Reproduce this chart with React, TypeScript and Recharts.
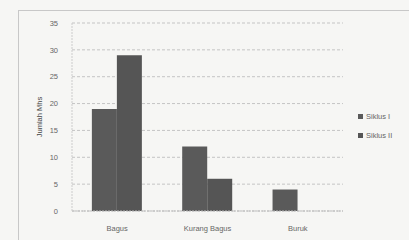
import { BarChart, Bar, XAxis, YAxis, CartesianGrid, Legend } from "recharts";

const categories = ["Bagus", "Kurang Bagus", "Buruk"];
const siklusI = [19, 12, 4];
const siklusII = [29, 6, 0];
const yTicks = [0, 5, 10, 15, 20, 25, 30, 35];

const data = categories.map((name, i) => ({ name, s1: siklusI[i], s2: siklusII[i] }));

const font = "Liberation Sans, sans-serif";
const tickStyle = { fontSize: 7.5, fill: "#666", fontFamily: font };

function LegendBox({ payload }: { payload?: { value: string; color: string }[] }) {
  return (
    <div style={{ fontSize: 7.5, fontFamily: font, color: "#666", lineHeight: "19px" }}>
      {(payload || []).map((p) => (
        <div key={p.value} style={{ display: "flex", alignItems: "center" }}>
          <span style={{ width: 5, height: 5, background: p.color, marginRight: 3, display: "inline-block" }} />
          {p.value}
        </div>
      ))}
    </div>
  );
}

export default function App() {
  return (
    <div style={{ position: "absolute", left: 0, top: 0, width: 409, height: 240, background: "#f6f6f4" }}>
      <div
        style={{
          position: "absolute",
          left: 18,
          top: 10,
          width: 400,
          height: 240,
          border: "1px solid #c8c8c8",
          boxSizing: "border-box",
        }}
      />
      <BarChart
        width={409}
        height={240}
        data={data}
        margin={{ top: 23, right: 10, bottom: 9, left: 17 }}
        barCategoryGap="22%"
        barGap={0}
        style={{ position: "absolute", left: 0, top: 0 }}
      >
        <CartesianGrid vertical={false} stroke="#c4c4c4" strokeDasharray="3 2" />
        <XAxis
          dataKey="name"
          tick={tickStyle}
          tickLine={false}
          axisLine={{ stroke: "#bbb", strokeDasharray: "2 1" }}
          height={20}
          tickMargin={9}
        />
        <YAxis
          width={55}
          domain={[0, 35]}
          ticks={yTicks}
          tick={tickStyle}
          tickLine={false}
          axisLine={{ stroke: "#ccc", strokeDasharray: "2 1" }}
          tickMargin={8}
          label={{
            value: "Jumlah Mhs",
            angle: -90,
            position: "insideLeft",
            offset: 22,
            style: { fontSize: 7.5, fill: "#444", textAnchor: "middle", fontFamily: font },
          }}
        />
        <Legend
          layout="vertical"
          verticalAlign="top"
          align="right"
          content={<LegendBox />}
          wrapperStyle={{ left: 358, top: 107, width: 56 }}
        />
        <Bar dataKey="s1" name="Siklus I" fill="#5a5a5a" isAnimationActive={false} />
        <Bar dataKey="s2" name="Siklus II" fill="#555555" isAnimationActive={false} />
      </BarChart>
    </div>
  );
}
